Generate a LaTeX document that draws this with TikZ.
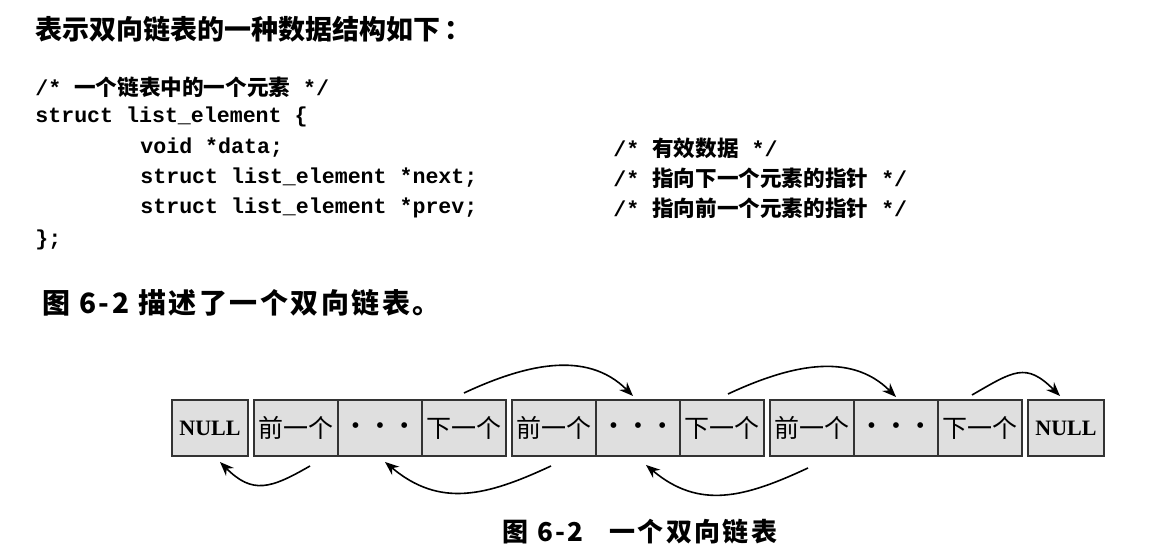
\documentclass[tikz,border=0pt]{standalone}
\usepackage{fontspec}
\setmainfont{Liberation Serif}
\setmonofont{Liberation Mono}
\newfontfamily\cjk{Noto Sans CJK SC}
\newfontfamily\cjkwide[LetterSpace=9]{Noto Sans CJK SC}
\usetikzlibrary{positioning,arrows.meta}
\newcommand{\zh}[1]{{\cjk\bfseries #1}}
\tikzset{
  cell/.style={draw=black!80, fill=gray!25, line width=0.7pt, outer sep=0pt,
    minimum width=42pt, minimum height=28pt, inner sep=0pt,
    font=\cjk\fontsize{12.5}{12}\selectfont},
  dotcell/.style={cell, font=\rmfamily\fontsize{12}{12}\selectfont},
  nullcell/.style={cell, minimum width=38pt, font=\rmfamily\bfseries\fontsize{11}{11}\selectfont},
  link/.style={-{Stealth[length=7pt,width=5.5pt]}, line width=0.8pt, black},
  code/.style={anchor=west, inner sep=0pt, font=\ttfamily\bfseries\fontsize{10.8}{12}\selectfont},
}
\begin{document}
\begin{tikzpicture}[x=0.5pt,y=0.5pt]
	\useasboundingbox (0,0) rectangle (1152,560);

	\node[anchor=west, inner sep=0pt, font=\cjk\bfseries\fontsize{13.5}{14}\selectfont] (title) at (35,531) {表示双向链表的一种数据结构如下\,：};

	\node[code] (c1) at (35,473) {/* \zh{一个链表中的一个元素} */};
	\node[code] (c2) at (35,443) {struct list\_element \{};
	\node[code] (c3) at (140,412) {void *data;};
	\node[code] (c4) at (140,382) {struct list\_element *next;};
	\node[code] (c5) at (140,352) {struct list\_element *prev;};
	\node[code] (c6) at (35,320) {\};};
	\node[code] (m3) at (613,412) {/* \zh{有效数据} */};
	\node[code] (m4) at (613,382) {/* \zh{指向下一个元素的指针} */};
	\node[code] (m5) at (613,352) {/* \zh{指向前一个元素的指针} */};

	\node[anchor=west, inner sep=0pt, font=\cjkwide\bfseries\fontsize{14}{14}\selectfont] (intro) at (42,257) {图 6-2 描述了一个双向链表。};

	\node[nullcell] (n0) at (210,132) {NULL};
	\node[cell, right=3pt of n0] (e1p) {前一个};
	\node[dotcell, right=0pt of e1p] (e1d) {•\hspace{8pt}•\hspace{8pt}•};
	\node[cell, right=0pt of e1d] (e1n) {下一个};
	\node[cell, right=3pt of e1n] (e2p) {前一个};
	\node[dotcell, right=0pt of e2p] (e2d) {•\hspace{8pt}•\hspace{8pt}•};
	\node[cell, right=0pt of e2d] (e2n) {下一个};
	\node[cell, right=3pt of e2n] (e3p) {前一个};
	\node[dotcell, right=0pt of e3p] (e3d) {•\hspace{8pt}•\hspace{8pt}•};
	\node[cell, right=0pt of e3d] (e3n) {下一个};
	\node[nullcell, right=3pt of e3n] (n4) {NULL};

	\draw[link] ([yshift=3.5pt]e1n.north) to[out=25,in=135] ([xshift=-2.5pt,yshift=2pt]e2d.north);
	\draw[link] ([xshift=3pt,yshift=3pt]e2n.north) to[out=25,in=135] ([yshift=1.5pt]e3d.north);
	\draw[link] ([xshift=-4pt,yshift=2.5pt]e3n.north) to[out=30,in=135,looseness=1.4] ([xshift=-3pt,yshift=2pt]n4.north);

	\draw[link] ([xshift=7pt,yshift=-5pt]e1p.south) to[out=-150,in=-45,looseness=1.3] ([xshift=5pt,yshift=-3pt]n0.south);
	\draw[link] ([xshift=-1.5pt,yshift=-5pt]e2p.south) to[out=-155,in=-40,looseness=1.1] ([xshift=2.5pt,yshift=-3pt]e1d.south);
	\draw[link] ([xshift=-2pt,yshift=-6pt]e3p.south) to[out=-155,in=-40,looseness=1.1] ([xshift=4pt,yshift=-4.5pt]e2d.south);

	\node[font=\cjkwide\bfseries\fontsize{13}{13}\selectfont] (cap) at (640,28) {图 6-2\hspace{1em}一个双向链表};
\end{tikzpicture}
\end{document}
